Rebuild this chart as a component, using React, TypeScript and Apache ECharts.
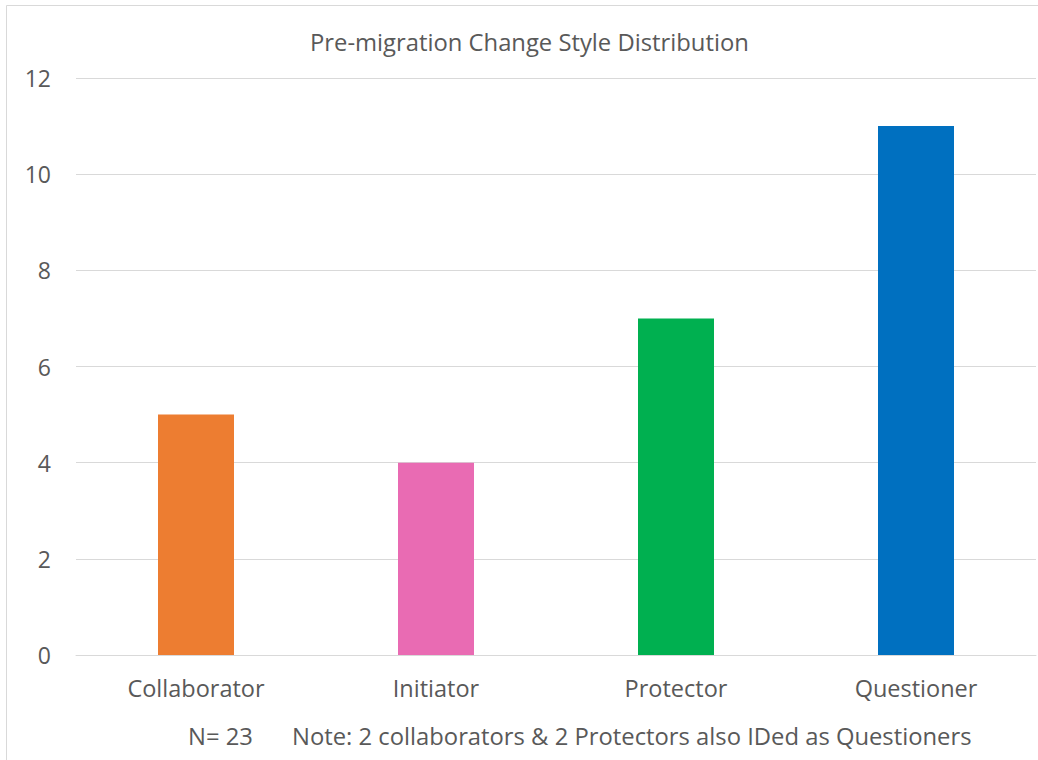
import React, { useEffect, useRef } from "react";
import * as echarts from "echarts";

const categories = ["Collaborator", "Initiator", "Protector", "Questioner"];
const values = [5, 4, 7, 11];
const barColors = ["#ED7D31", "#E96BB3", "#00B050", "#0070C0"];
const titleText = "Pre-migration Change Style Distribution";
const noteN = "N= 23";
const noteText = "Note: 2 collaborators & 2 Protectors also IDed as Questioners";

export default function App() {
  const ref = useRef<HTMLDivElement>(null);
  useEffect(() => {
    if (!ref.current) return;
    const chart = echarts.init(ref.current, null, { renderer: "svg" });
    const font = "'Open Sans', sans-serif";
    const fs = 23.5;
    chart.setOption({
      animation: false,
      backgroundColor: "#ffffff",
      title: {
        text: titleText,
        left: 305,
        top: 25,
        textStyle: { fontFamily: font, fontSize: 23.8, fontWeight: "normal", color: "#595959" },
      },
      grid: { left: 76, right: 2, top: 78, bottom: 105, containLabel: false },
      xAxis: {
        type: "category",
        data: categories,
        axisLine: { lineStyle: { color: "#d9d9d9" } },
        axisTick: { show: false },
        axisLabel: { fontFamily: font, fontSize: fs, color: "#595959", margin: 21 },
      },
      yAxis: {
        type: "value",
        min: 0,
        max: 12,
        interval: 2,
        axisLine: { show: false },
        axisTick: { show: false },
        splitLine: { lineStyle: { color: "#d9d9d9" } },
        axisLabel: { fontFamily: font, fontSize: 23, color: "#595959", margin: 25 },
      },
      series: [
        {
          type: "bar",
          data: values.map((v, i) => ({ value: v, itemStyle: { color: barColors[i] } })),
          barWidth: 76,
        },
      ],
      graphic: [
        {
          type: "rect",
          shape: { x: 6.5, y: 5.5, width: 1040, height: 770 },
          style: { fill: "none", stroke: "#d9d9d9", lineWidth: 1 },
          silent: true,
        },
        {
          type: "text",
          x: 188,
          y: 736,
          style: { text: noteN, font: `23.8px 'Open Sans', sans-serif`, fill: "#595959", textVerticalAlign: "middle" },
        },
        {
          type: "text",
          x: 292,
          y: 736,
          style: { text: noteText, font: `23.8px 'Open Sans', sans-serif`, fill: "#595959", textVerticalAlign: "middle" },
        },
      ],
    });
    return () => chart.dispose();
  }, []);
  return <div ref={ref} style={{ position: "absolute", left: 0, top: 0, width: 1038, height: 760 }} />;
}
